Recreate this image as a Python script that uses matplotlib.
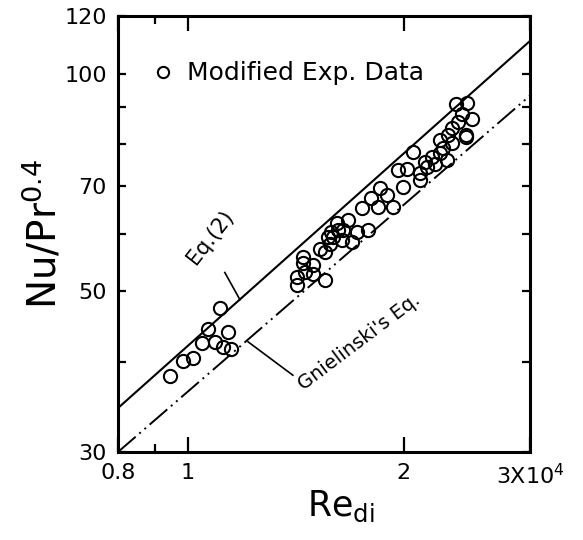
import matplotlib
matplotlib.use('Agg')
import matplotlib.pyplot as plt
from matplotlib.ticker import FixedLocator, NullFormatter

plt.rcParams['font.family'] = ['DejaVu Sans']
plt.rcParams['mathtext.fontset'] = 'dejavusans'

# Modified experimental data (Re_di in units of 1e4, Nu/Pr^0.4)
re_exp = [0.945, 0.986, 1.019, 1.049, 1.069, 1.092, 1.110, 1.120, 1.138, 1.151,
          1.419, 1.419, 1.450, 1.450, 1.497, 1.497, 1.554, 1.529, 1.554, 1.579,
          1.596, 1.614, 1.622, 1.640, 1.675, 1.693, 1.720, 1.785, 1.748, 1.804,
          1.843, 1.854, 1.894, 1.934, 1.966, 2.019, 1.997, 2.062, 2.107, 2.107,
          2.141, 2.153, 2.188, 2.211, 2.247, 2.271, 2.296, 2.334, 2.308, 2.442,
          1.569, 1.457, 1.587, 1.649,
          2.366, 2.450, 2.411, 2.489, 2.334, 2.442, 2.247, 2.381]
nu_exp = [38.2, 40.1, 40.5, 42.4, 44.4, 42.6, 47.4, 41.9, 43.9, 41.6,
          51.0, 52.4, 55.8, 54.7, 54.4, 52.9, 51.8, 57.3, 56.7, 58.2,
          59.5, 62.1, 60.8, 58.9, 62.7, 58.5, 60.4, 60.8, 65.1, 67.2,
          65.4, 69.4, 67.9, 65.4, 73.5, 73.9, 69.7, 78.0, 71.2, 72.8,
          75.5, 74.3, 76.7, 75.1, 77.6, 78.8, 75.9, 80.1, 82.2, 81.7,
          59.5, 53.2, 60.4, 60.8,
          90.7, 91.0, 87.8, 86.5, 84.0, 82.2, 80.9, 85.7]

# correlation lines (end points)
eq2_re = [0.8, 3.0]
eq2_nu = [34.5, 110.9]
gn_re = [0.8, 3.0]
gn_nu = [30.0, 93.2]

xticks = [0.8, 1, 2, 3]
xticklabels = ['0.8', '1', '2', r'3X10$^4$']
yticks = [30, 50, 70, 100, 120]
yminor = [40, 60, 80, 90]

fig = plt.figure(figsize=(5.83, 5.40), dpi=100)
ax = fig.add_axes([0.2024, 0.163, 0.7066, 0.807])

ax.plot(eq2_re, eq2_nu, color='black', lw=1.5)
ax.plot(gn_re, gn_nu, color='black', lw=1.4, dashes=[12, 2.5, 1, 2.5, 1, 2.5])
ax.plot(re_exp, nu_exp, 'o', ms=9.5, mfc='none', mec='black', mew=1.5,
        label='Modified Exp. Data')

ax.set_xscale('log')
ax.set_yscale('log')
ax.set_xlim(0.8, 3.0)
ax.set_ylim(30, 120)

ax.xaxis.set_major_locator(FixedLocator(xticks))
ax.set_xticklabels(xticklabels)
ax.xaxis.set_minor_locator(FixedLocator([0.9]))
ax.xaxis.set_minor_formatter(NullFormatter())
ax.yaxis.set_major_locator(FixedLocator(yticks))
ax.set_yticklabels([str(v) for v in yticks])
ax.yaxis.set_minor_locator(FixedLocator(yminor))
ax.yaxis.set_minor_formatter(NullFormatter())

ax.tick_params(which='both', direction='in', top=True, right=True,
               width=1.6, labelsize=16, pad=8)
ax.tick_params(axis='x', which='major', length=11)
ax.tick_params(axis='x', which='minor', length=6)
ax.tick_params(axis='y', which='both', length=6)
for sp in ax.spines.values():
    sp.set_linewidth(2.2)

ax.set_xlabel(r'Re$_{\mathrm{di}}$', fontsize=25, labelpad=0)
ax.xaxis.set_label_coords(0.54, -0.085)
ax.set_ylabel(r'Nu/Pr$^{0.4}$', fontsize=28, labelpad=0)

# line labels
ax.text(1.075, 59.5, 'Eq.(2)', fontsize=15, rotation=52,
        ha='center', va='center')
ax.plot([1.127, 1.183], [53.1, 48.7], color='black', lw=1.2)
ax.text(1.735, 42.6, "Gnielinski's Eq.", fontsize=14, rotation=37,
        ha='center', va='center')
ax.plot([1.214, 1.402], [42.6, 38.3], color='black', lw=1.2)

ax.legend(loc='center left', bbox_to_anchor=(0.058, 0.869), frameon=False,
          fontsize=18, handlelength=0.7, handletextpad=0.6, borderpad=0,
          markerscale=0.85)

fig.savefig('out.png', dpi=100)
